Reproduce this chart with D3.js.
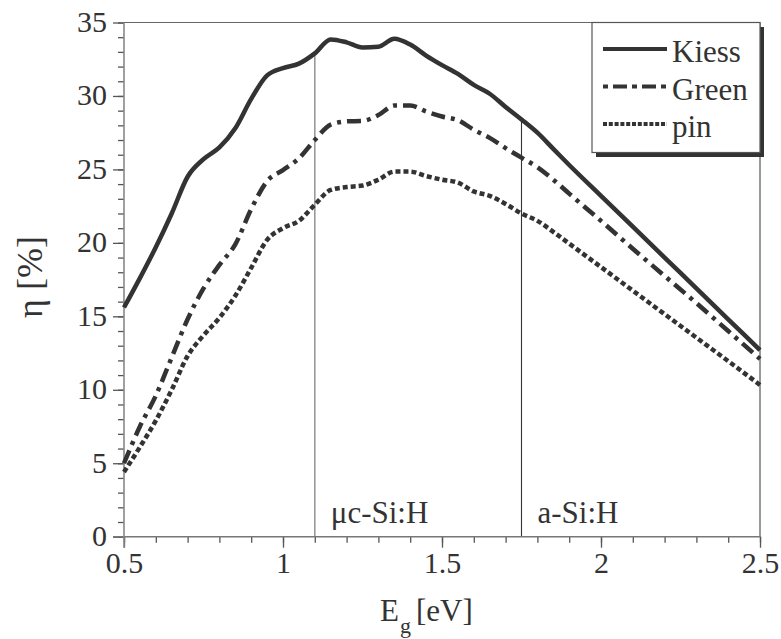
<!DOCTYPE html>
<html><head><meta charset="utf-8">
<script src="https://cdn.jsdelivr.net/npm/d3@7"></script>
<style>body{margin:0;background:#fff}svg{display:block}</style>
</head><body>
<svg id="c" width="781" height="639"></svg>
<script>
// Band gap energy grid (eV)
const energy = [0.50,0.55,0.60,0.65,0.70,0.75,0.80,0.85,0.90,0.95,1.00,1.05,1.10,1.15,1.20,1.25,1.30,1.35,1.40,1.45,1.50,1.55,1.60,1.65,1.70,1.75,1.80,1.85,1.90,2.00,2.10,2.20,2.30,2.40,2.50];
// Efficiency (%) per model
const kiess = [15.6,17.6,19.7,22.0,24.5,25.7,26.5,27.8,29.8,31.4,31.9,32.2,32.9,33.85,33.65,33.3,33.35,33.9,33.5,32.75,32.1,31.5,30.75,30.15,29.25,28.4,27.5,26.4,25.3,23.2,21.1,19.0,16.9,14.8,12.7];
const green = [5.0,7.5,9.6,12.2,14.8,16.9,18.5,19.9,22.3,24.2,24.95,25.75,27.0,28.05,28.27,28.3,28.7,29.35,29.35,28.95,28.6,28.35,27.7,27.15,26.45,25.8,25.15,24.3,23.35,21.5,19.6,17.75,15.9,14.0,12.1];
const pin   = [4.4,6.1,7.9,10.0,12.3,13.7,14.9,16.4,18.3,20.2,21.0,21.5,22.6,23.6,23.8,23.9,24.3,24.85,24.85,24.55,24.3,24.1,23.5,23.2,22.65,22.0,21.5,20.75,19.95,18.35,16.75,15.15,13.55,11.95,10.33];
const seriesNames = ["Kiess","Green","pin"];
const xTicks = [0.5,1,1.5,2,2.5];
const yTicks = [0,5,10,15,20,25,30,35];
const materials = [{e:1.10,label:"μc-Si:H"},{e:1.75,label:"a-Si:H"}];

const svg = d3.select("#c");
const FONT = '"Liberation Serif"';
const INK = "#333";
const x = d3.scaleLinear().domain([0.5,2.5]).range([124,760]);
const y = d3.scaleLinear().domain([0,35]).range([536.7,22.5]);

const styles = [
  {w:4.5, dash:null},
  {w:4.5, dash:"14,6,4,6"},
  {w:4.5, dash:"5,3"}
];
const data = [kiess, green, pin];

// frame
svg.append("line").attr("x1",x(0.5)).attr("x2",x(2.5)).attr("y1",y(35)).attr("y2",y(35)).attr("stroke","#666").attr("stroke-width",1.2);
svg.append("line").attr("x1",x(2.5)).attr("x2",x(2.5)).attr("y1",y(35)).attr("y2",y(0)).attr("stroke","#777").attr("stroke-width",1.5);

// material marker lines
const kInterp = e => { const i = d3.bisectLeft(energy, e); if (energy[i]===e) return kiess[i]; const t=(e-energy[i-1])/(energy[i]-energy[i-1]); return kiess[i-1]+t*(kiess[i]-kiess[i-1]); };
materials.forEach((m,i)=>{
  svg.append("line").attr("x1",x(m.e)).attr("x2",x(m.e)).attr("y1",y(kInterp(m.e))).attr("y2",y(0))
    .attr("stroke", i===0 ? "#999" : "#333").attr("stroke-width", i===0 ? 1.6 : 1.1);
  svg.append("text").attr("x",x(m.e)+16).attr("y",523).attr("font-size",31).attr("fill",INK).style("font-family",FONT).text(m.label);
});

// axes
const gx = svg.append("g").attr("transform",`translate(0,${y(0)})`);
gx.call(d3.axisBottom(x).tickValues(d3.range(0.5,2.51,0.1)).tickSize(6).tickFormat(""));
gx.call(g=>g.selectAll(".domain").remove());
const gx2 = svg.append("g").attr("transform",`translate(0,${y(0)})`);
gx2.call(d3.axisBottom(x).tickValues(xTicks).tickSize(11).tickFormat(d=>String(d)));
gx2.select(".domain").remove();
gx2.selectAll("text").attr("dy",null).attr("y",36.6).attr("font-size",30).attr("fill",INK).style("font-family",FONT);
[gx,gx2].forEach(g=>g.selectAll("line").attr("stroke","#555").attr("stroke-width",1.3));

const gy = svg.append("g").attr("transform",`translate(${x(0.5)},0)`);
gy.call(d3.axisLeft(y).tickValues(d3.range(0,35.01,1)).tickSize(6).tickFormat(""));
gy.select(".domain").remove();
const gy2 = svg.append("g").attr("transform",`translate(${x(0.5)},0)`);
gy2.call(d3.axisLeft(y).tickValues(yTicks).tickSize(11).tickFormat(d=>String(d)));
gy2.select(".domain").remove();
gy2.selectAll("text").attr("dy",null).attr("y",9).attr("x",-17).attr("font-size",30).attr("fill",INK).style("font-family",FONT);
[gy,gy2].forEach(g=>g.selectAll("line").attr("stroke","#555").attr("stroke-width",1.3));

svg.append("line").attr("x1",x(0.5)-11).attr("x2",x(2.5)).attr("y1",y(0)).attr("y2",y(0)).attr("stroke","#777").attr("stroke-width",1.6);
svg.append("line").attr("x1",x(0.5)).attr("x2",x(0.5)).attr("y1",y(35)).attr("y2",y(0)+11).attr("stroke","#888").attr("stroke-width",1.6);

// curves
const line = d3.line().x((d,i)=>x(energy[i])).y(d=>y(d)).curve(d3.curveMonotoneX);
data.forEach((vals,k)=>{
  const p = svg.append("path").attr("d",line(vals)).attr("fill","none").attr("stroke",INK)
    .attr("stroke-width",styles[k].w).attr("stroke-linejoin","round");
  if (styles[k].dash) p.attr("stroke-dasharray",styles[k].dash);
});

// legend
const lg = svg.append("g");
lg.append("rect").attr("x",596).attr("y",27).attr("width",168).attr("height",130).attr("fill","#333");
lg.append("rect").attr("x",592).attr("y",22.5).attr("width",168).attr("height",130).attr("fill","#fff").attr("stroke","#555").attr("stroke-width",1.2);
const legendDash = [null,"5,5,14,5","4,1.8"];
seriesNames.forEach((n,i)=>{
  const by = 62 + i*37.5;
  const l = lg.append("line").attr("x1",603).attr("x2",667).attr("y1",by-13).attr("y2",by-13).attr("stroke",INK).attr("stroke-width",4);
  if (legendDash[i]) l.attr("stroke-dasharray",legendDash[i]);
  lg.append("text").attr("x",672).attr("y",by).attr("font-size",31).attr("fill",INK).style("font-family",FONT).text(n);
});

// axis titles
const xt = svg.append("text").attr("x",380).attr("y",621).attr("font-size",31).attr("fill",INK).style("font-family",FONT);
xt.append("tspan").text("E");
xt.append("tspan").attr("font-size",22).attr("dy",12).attr("dx",1).text("g");
xt.append("tspan").attr("dy",-12).attr("dx",5).text("[eV]");

svg.append("text").attr("transform","translate(42,277) rotate(-90)").attr("text-anchor","middle")
  .attr("font-size",36).attr("fill",INK).style("font-family",FONT).text("η [%]");
</script>
</body></html>
